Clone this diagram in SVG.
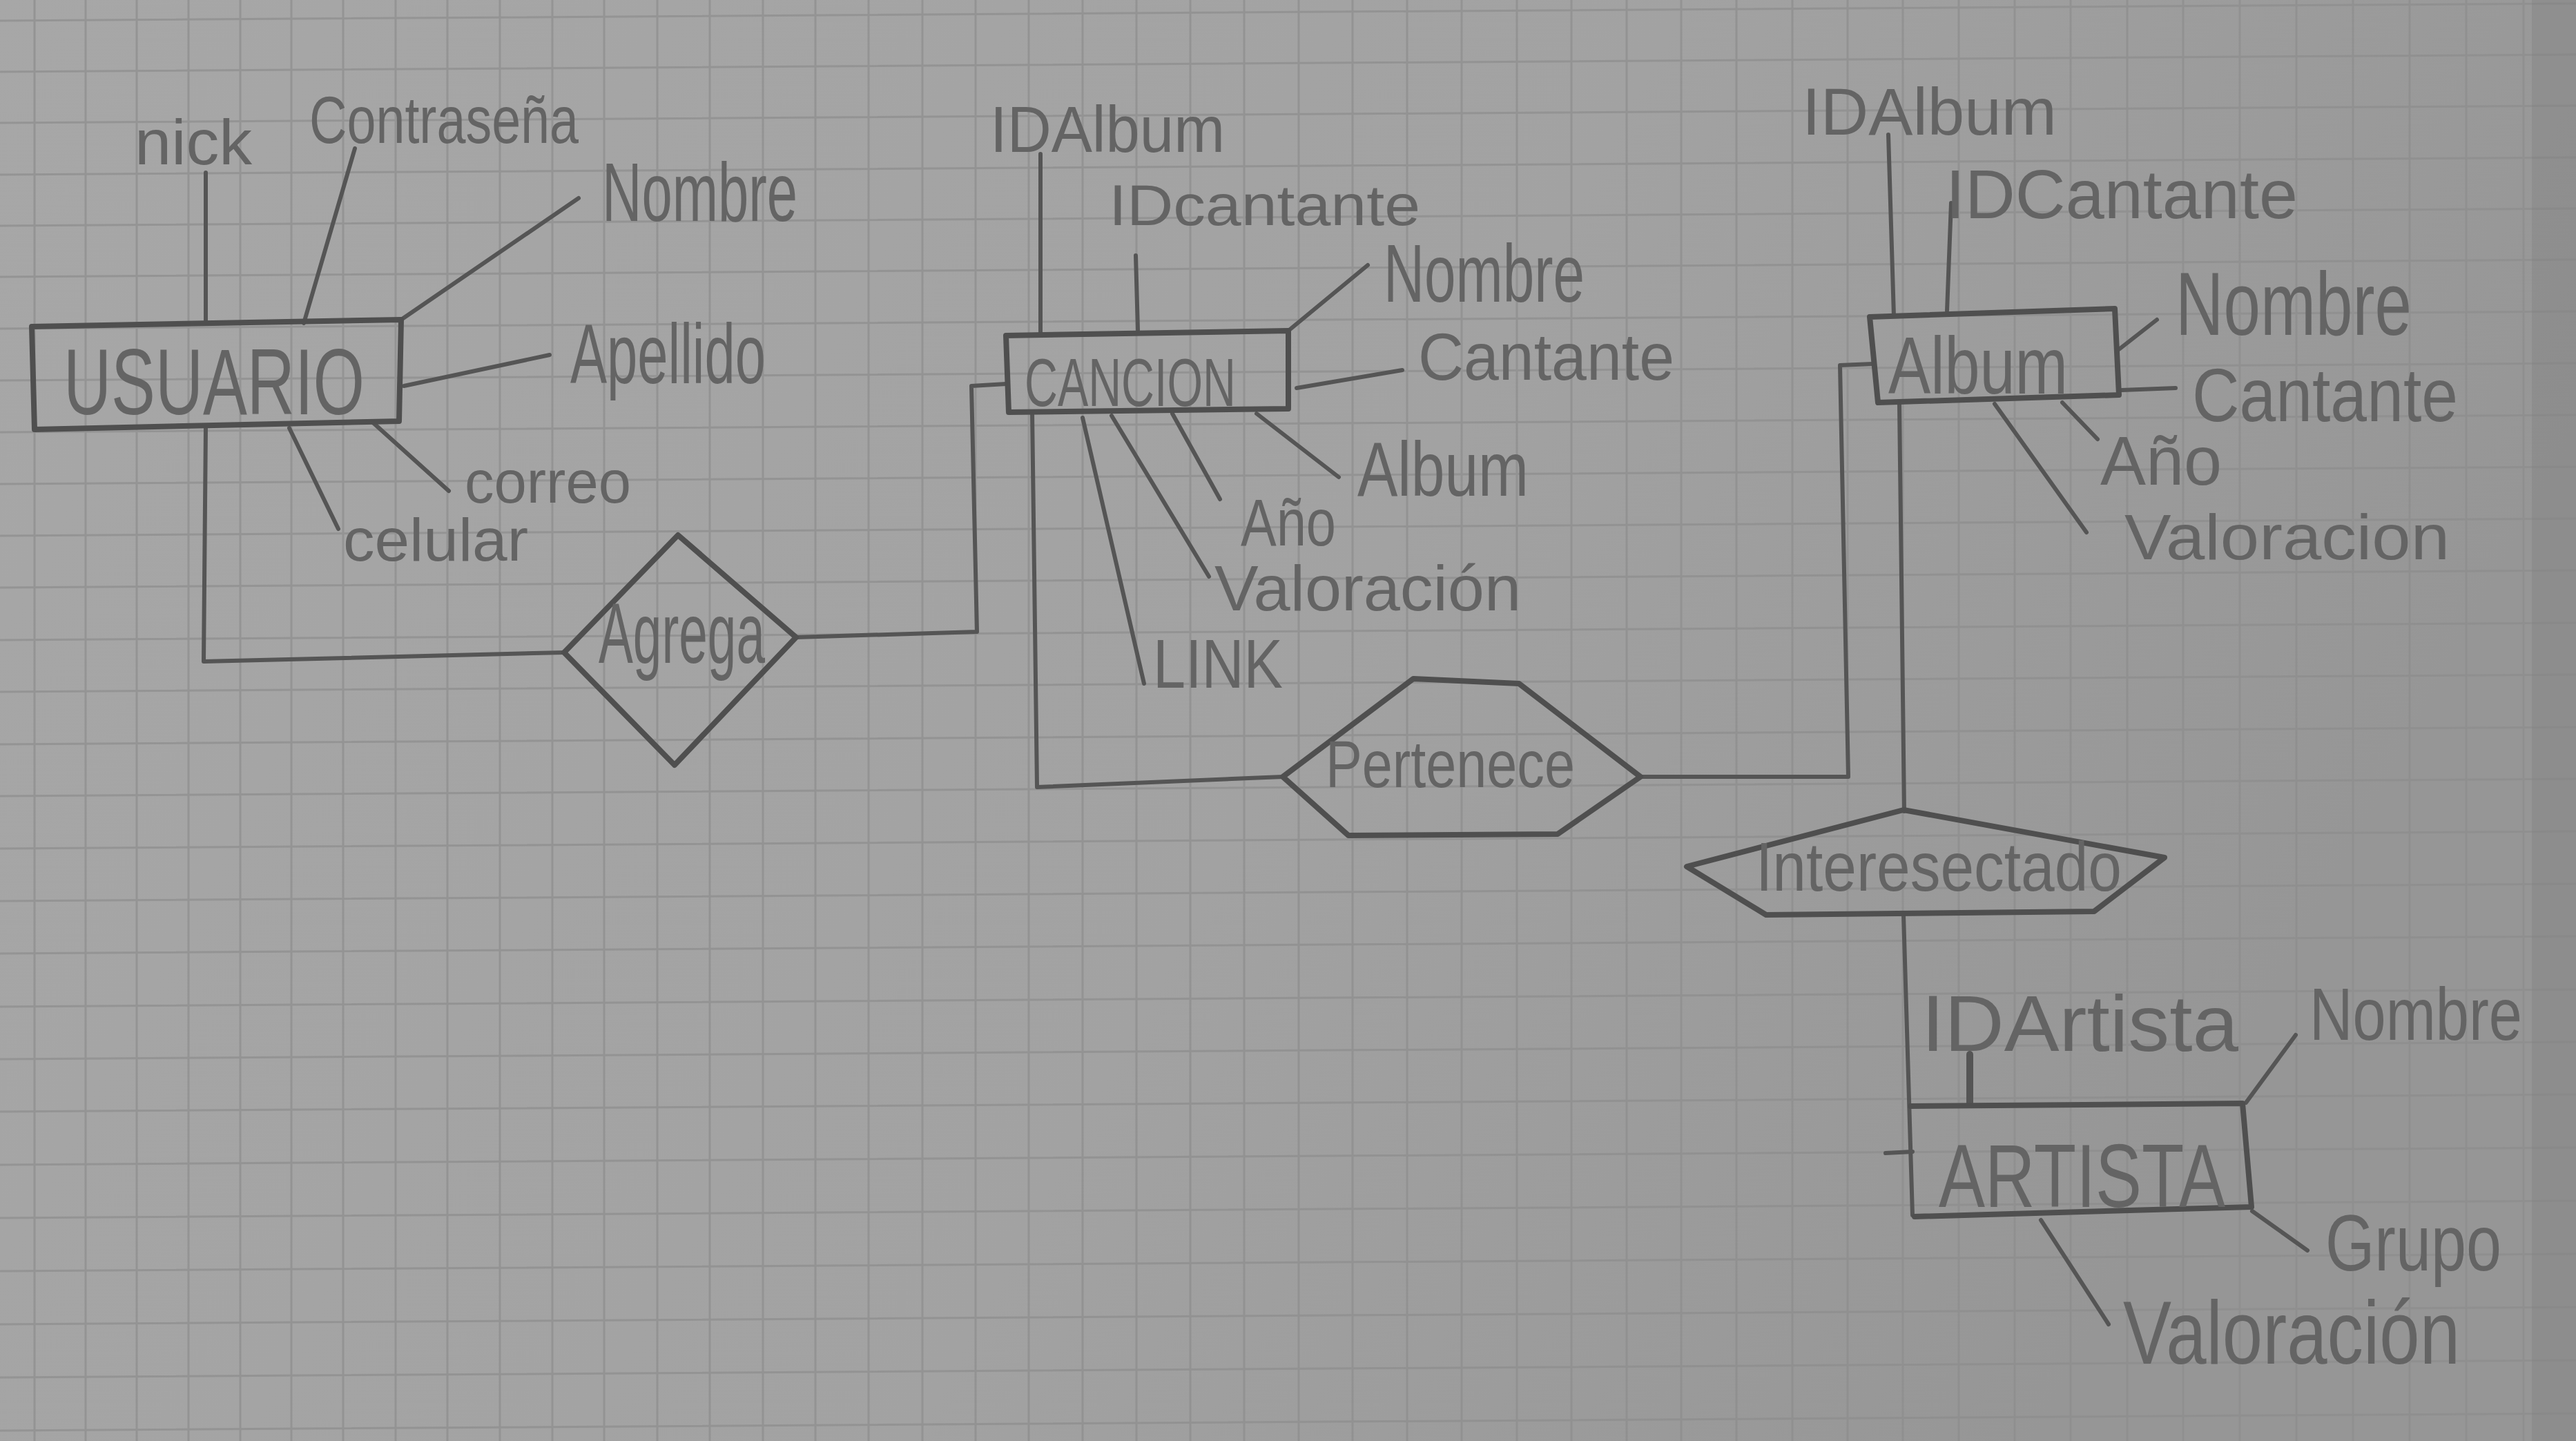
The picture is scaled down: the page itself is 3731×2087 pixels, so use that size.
<svg xmlns="http://www.w3.org/2000/svg" width="3731" height="2087" viewBox="0 0 3731 2087">
<defs>
<style>
.ln{stroke:#555;stroke-width:6;fill:none;stroke-linecap:round;stroke-linejoin:round}
.sh{stroke:#4f4f4f;stroke-width:8;fill:none;stroke-linecap:round;stroke-linejoin:round}
.t{font-family:"Liberation Sans",Arial,sans-serif;fill:#646464}
.grid{stroke:#8d8d8d;stroke-width:3;fill:none;opacity:0.7}
</style>
<linearGradient id="paper" x1="0" y1="0" x2="1" y2="0.3">
<stop offset="0" stop-color="#a7a7a7"/>
<stop offset="0.6" stop-color="#a2a2a2"/>
<stop offset="1" stop-color="#969696"/>
</linearGradient>
</defs>
<rect width="3731" height="2087" fill="url(#paper)"/>
<g id="grid" class="grid">
<path d="M50 0V2087M124 0V2087M198 0V2087M273 0V2087M348 0V2087M422 0V2087M497 0V2087M573 0V2087M648 0V2087M724 0V2087M800 0V2087M875 0V2087M952 0V2087M1028 0V2087M1105 0V2087M1181 0V2087M1258 0V2087M1336 0V2087M1413 0V2087M1490 0V2087M1568 0V2087M1646 0V2087M1724 0V2087M1802 0V2087M1881 0V2087M1959 0V2087M2038 0V2087M2117 0V2087M2197 0V2087M2276 0V2087M2356 0V2087M2435 0V2087M2515 0V2087M2596 0V2087M2676 0V2087M2756 0V2087M2837 0V2087M2918 0V2087M2999 0V2087M3081 0V2087M3162 0V2087M3244 0V2087M3326 0V2087M3408 0V2087M3490 0V2087M3572 0V2087M3655 0V2087"/>
<path d="M0 30L3731 5M0 104L3731 79M0 178L3731 153M0 253L3731 228M0 327L3731 302M0 401L3731 376M0 476L3731 451M0 551L3731 526M0 626L3731 601M0 701L3731 676M0 776L3731 751M0 851L3731 826M0 927L3731 902M0 1002L3731 977M0 1078L3731 1053M0 1153L3731 1128M0 1229L3731 1204M0 1305L3731 1280M0 1381L3731 1356M0 1458L3731 1433M0 1534L3731 1509M0 1610L3731 1585M0 1687L3731 1662M0 1764L3731 1739M0 1841L3731 1816M0 1918L3731 1893M0 1995L3731 1970M0 2072L3731 2047"/>
</g>
<rect x="3667" y="0" width="64" height="2087" fill="#7f7f7f" opacity="0.35"/>

<g id="connectors">
<path class="ln" d="M298 250L298 469"/>
<path class="ln" d="M514 215L440 468"/>
<path class="ln" d="M838 287L581 463"/>
<path class="ln" d="M796 514L585 559"/>
<path class="ln" d="M539 611L650 711"/>
<path class="ln" d="M419 620L490 766"/>
<path class="ln" d="M298 618L295 958L817 945"/>
<path class="ln" d="M1507 223L1507 484"/>
<path class="ln" d="M1645 370L1648 478"/>
<path class="ln" d="M1981 384L1866 479"/>
<path class="ln" d="M2031 536L1878 562"/>
<path class="ln" d="M1820 599L1939 691"/>
<path class="ln" d="M1698 599L1767 723"/>
<path class="ln" d="M1610 602L1751 835"/>
<path class="ln" d="M1568 605L1657 990"/>
<path class="ln" d="M1153 923L1415 915L1407 559L1457 556"/>
<path class="ln" d="M1495 597L1502 1140L1858 1125"/>
<path class="ln" d="M2376 1125L2677 1125L2665 529L2712 527"/>
<path class="ln" d="M2735 195L2743 458"/>
<path class="ln" d="M2826 294L2820 450"/>
<path class="ln" d="M3124 463L3069 506"/>
<path class="ln" d="M3073 565L3151 562"/>
<path class="ln" d="M2987 583L3038 636"/>
<path class="ln" d="M2889 585L3022 771"/>
<path class="ln" d="M2751 585L2758 1175"/>
<path class="ln" d="M2757 1325L2770 1760"/>
<path class="ln" d="M2731 1670L2770 1668"/>
<path class="ln" d="M2853 1527L2853 1600" style="stroke-width:10"/>
<path class="ln" d="M3325 1499L3253 1597"/>
<path class="ln" d="M3262 1754L3342 1811"/>
<path class="ln" d="M2956 1767L3054 1918"/>
</g>

<g id="usuario">
<path class="sh" d="M46 473L581 463L578 610L50 622Z"/>
<text class="t" x="92" y="600" font-size="136" textLength="436" lengthAdjust="spacingAndGlyphs">USUARIO</text>
</g>
<g id="attr-nick"><text class="t" x="195" y="238" font-size="92" textLength="170" lengthAdjust="spacingAndGlyphs">nick</text></g>
<g id="attr-contrasena"><text class="t" x="448" y="207" font-size="96" textLength="390" lengthAdjust="spacingAndGlyphs">Contraseña</text></g>
<g id="attr-usuario-nombre"><text class="t" x="872" y="320" font-size="120" textLength="283" lengthAdjust="spacingAndGlyphs">Nombre</text></g>
<g id="attr-apellido"><text class="t" x="826" y="555" font-size="122" textLength="283" lengthAdjust="spacingAndGlyphs">Apellido</text></g>
<g id="attr-correo"><text class="t" x="673" y="728" font-size="88" textLength="241" lengthAdjust="spacingAndGlyphs">correo</text></g>
<g id="attr-celular"><text class="t" x="497" y="812" font-size="88" textLength="268" lengthAdjust="spacingAndGlyphs">celular</text></g>

<g id="agrega">
<path class="sh" d="M982 775L1153 923L977 1108L817 945Z"/>
<text class="t" x="867" y="960" font-size="125" textLength="241" lengthAdjust="spacingAndGlyphs">Agrega</text>
</g>

<g id="cancion">
<path class="sh" d="M1457 486L1866 479L1866 592L1461 597Z"/>
<text class="t" x="1484" y="588" font-size="98" textLength="306" lengthAdjust="spacingAndGlyphs">CANCION</text>
</g>
<g id="attr-cancion-idalbum"><text class="t" x="1434" y="220" font-size="94" textLength="340" lengthAdjust="spacingAndGlyphs">IDAlbum</text></g>
<g id="attr-cancion-idcantante"><text class="t" x="1606" y="326" font-size="84" textLength="451" lengthAdjust="spacingAndGlyphs">IDcantante</text></g>
<g id="attr-cancion-nombre"><text class="t" x="2004" y="437" font-size="118" textLength="291" lengthAdjust="spacingAndGlyphs">Nombre</text></g>
<g id="attr-cancion-cantante"><text class="t" x="2054" y="550" font-size="96" textLength="371" lengthAdjust="spacingAndGlyphs">Cantante</text></g>
<g id="attr-cancion-album"><text class="t" x="1966" y="718" font-size="112" textLength="248" lengthAdjust="spacingAndGlyphs">Album</text></g>
<g id="attr-cancion-anio"><text class="t" x="1797" y="790" font-size="96" textLength="138" lengthAdjust="spacingAndGlyphs">Año</text></g>
<g id="attr-cancion-valoracion"><text class="t" x="1759" y="884" font-size="92" textLength="444" lengthAdjust="spacingAndGlyphs">Valoración</text></g>
<g id="attr-link"><text class="t" x="1670" y="996" font-size="100" textLength="188" lengthAdjust="spacingAndGlyphs">LINK</text></g>

<g id="pertenece">
<path class="sh" d="M1858 1125L2047 983L2200 990L2376 1125L2256 1208L1953 1210Z"/>
<text class="t" x="1920" y="1140" font-size="96" textLength="361" lengthAdjust="spacingAndGlyphs">Pertenece</text>
</g>

<g id="album">
<path class="sh" d="M2708 459L3063 447L3069 572L2720 583Z"/>
<text class="t" x="2735" y="570" font-size="116" textLength="260" lengthAdjust="spacingAndGlyphs">Album</text>
</g>
<g id="attr-album-idalbum"><text class="t" x="2610" y="195" font-size="96" textLength="369" lengthAdjust="spacingAndGlyphs">IDAlbum</text></g>
<g id="attr-album-idcantante"><text class="t" x="2818" y="316" font-size="100" textLength="510" lengthAdjust="spacingAndGlyphs">IDCantante</text></g>
<g id="attr-album-nombre"><text class="t" x="3151" y="485" font-size="130" textLength="342" lengthAdjust="spacingAndGlyphs">Nombre</text></g>
<g id="attr-album-cantante"><text class="t" x="3175" y="610" font-size="110" textLength="385" lengthAdjust="spacingAndGlyphs">Cantante</text></g>
<g id="attr-album-anio"><text class="t" x="3042" y="702" font-size="100" textLength="176" lengthAdjust="spacingAndGlyphs">Año</text></g>
<g id="attr-album-valoracion"><text class="t" x="3077" y="810" font-size="92" textLength="471" lengthAdjust="spacingAndGlyphs">Valoracion</text></g>

<g id="interesectado">
<path class="sh" d="M2443 1255L2757 1173L3135 1242L3033 1320L2558 1325Z"/>
<text class="t" x="2543" y="1290" font-size="100" textLength="530" lengthAdjust="spacingAndGlyphs">Interesectado</text>
</g>

<g id="artista">
<path class="sh" d="M2767 1602L3248 1598L3261 1748L2773 1762"/>
<text class="t" x="2808" y="1748" font-size="130" textLength="415" lengthAdjust="spacingAndGlyphs">ARTISTA</text>
</g>
<g id="attr-idartista"><text class="t" x="2783" y="1522" font-size="115" textLength="459" lengthAdjust="spacingAndGlyphs">IDArtista</text></g>
<g id="attr-artista-nombre"><text class="t" x="3345" y="1506" font-size="108" textLength="308" lengthAdjust="spacingAndGlyphs">Nombre</text></g>
<g id="attr-grupo"><text class="t" x="3368" y="1840" font-size="115" textLength="255" lengthAdjust="spacingAndGlyphs">Grupo</text></g>
<g id="attr-artista-valoracion"><text class="t" x="3075" y="1975" font-size="130" textLength="488" lengthAdjust="spacingAndGlyphs">Valoración</text></g>
</svg>
